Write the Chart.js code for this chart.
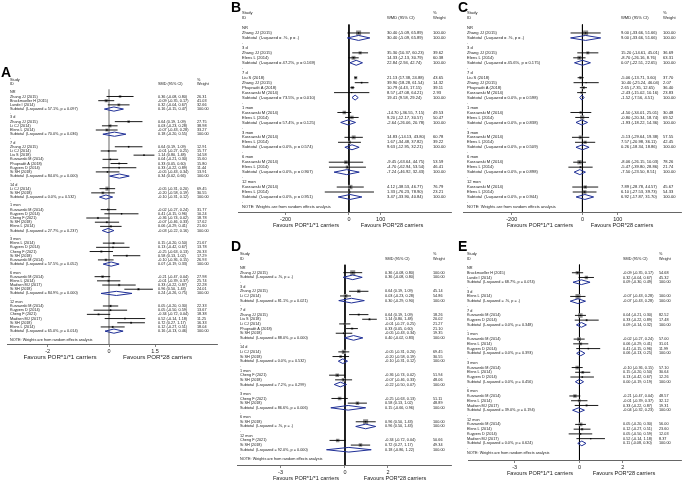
<!DOCTYPE html>
<html>
<head>
<meta charset="utf-8">
<script src="https://cdn.jsdelivr.net/npm/chart.js@4.4.0/dist/chart.umd.min.js"></script>
<style>
    html, body { margin: 0; padding: 0; background: #fff; }
    #wrap { position: relative; width: 685px; height: 483px; overflow: hidden; }
    canvas { position: absolute; }
</style>
</head>
<body>
<div id="wrap">
    <canvas id="pA"></canvas>
    <canvas id="pB"></canvas>
    <canvas id="pC"></canvas>
    <canvas id="pD"></canvas>
    <canvas id="pE"></canvas>
</div>
<script>
// ---- data (est / lower / upper / % weight per row) ----
const NOTE = 'NOTE: Weights are from random effects analysis';

// A: SMD
const aLabels = ['NR', 'Zhang JJ (2015)', 'Bruckmueller H (2015)', 'Lunde I (2014)', 'Subtotal  (I-squared = 57.1%, p = 0.097)', '.',
    '3 d', 'Zhang JJ (2015)', 'Li CJ (2014)', 'Elens L (2014)', 'Subtotal  (I-squared = 70.0%, p = 0.036)', '.',
    '7 d', 'Zhang JJ (2015)', 'Li CJ (2014)', 'Liu S (2018)', 'Kurzawski M (2014)', 'Phupradit A (2018)', 'Kuypers D (2014)', 'Si SH (2018)', 'Subtotal  (I-squared = 84.0%, p = 0.000)', '.',
    '14 d', 'Li CJ (2014)', 'Si SH (2018)', 'Subtotal  (I-squared = 0.0%, p = 0.532)', '.',
    '1 mon', 'Kurzawski M (2014)', 'Kuypers D (2014)', 'Cheng F (2021)', 'Si SH (2018)', 'Elens L (2014)', 'Subtotal  (I-squared = 27.7%, p = 0.237)', '.',
    '3 mon', 'Elens L (2014)', 'Kuypers D (2014)', 'Cheng F (2021)', 'Si SH (2018)', 'Kurzawski M (2014)', 'Subtotal  (I-squared = 57.5%, p = 0.052)', '.',
    '6 mon', 'Kurzawski M (2014)', 'Elens L (2014)', 'Madsen MJ (2017)', 'Si SH (2018)', 'Subtotal  (I-squared = 84.9%, p = 0.000)', '.',
    '12 mon', 'Kurzawski M (2014)', 'Kuypers D (2014)', 'Cheng F (2021)', 'Madsen MJ (2017)', 'Si SH (2018)', 'Elens L (2014)', 'Subtotal  (I-squared = 65.0%, p = 0.014)', '.',
    NOTE];
const aEst = [null, 0.36, -0.09, 0.32, 0.16, null,
    null, 0.64, 0.03, -0.07, 0.18, null,
    null, 0.64, -0.01, 1.14, 0.04, 0.33, 0.33, -0.05, 0.34, null,
    null, -0.05, -0.20, -0.10, null,
    null, -0.02, 0.41, -0.36, -0.07, 0.06, -0.03, null,
    null, 0.15, 0.13, -0.25, 0.58, -0.10, 0.07, null,
    null, -0.21, -0.01, 0.33, 0.96, 0.24, null,
    null, 0.05, 0.05, -0.34, 0.52, 0.72, 0.12, 0.16, null,
    null];
const aLo = [null, -0.08, -0.35, -0.04, -0.15, null,
    null, 0.19, -0.23, -0.43, -0.20, null,
    null, 0.19, -0.27, 0.80, -0.21, 0.05, -0.22, -0.43, 0.02, null,
    null, -0.31, -0.58, -0.31, null,
    null, -0.27, -0.15, -0.74, -0.46, -0.29, -0.22, null,
    null, -0.20, -0.42, -0.63, 0.13, -0.36, -0.19, null,
    null, -0.47, -0.39, -0.22, 0.50, -0.26, null,
    null, -0.20, -0.50, -0.72, -0.14, 0.27, -0.27, -0.13, null,
    null];
const aHi = [null, 0.80, 0.17, 0.67, 0.47, null,
    null, 1.09, 0.28, 0.28, 0.55, null,
    null, 1.09, 0.25, 1.48, 0.30, 0.60, 0.89, 0.34, 0.66, null,
    null, 0.20, 0.19, 0.12, null,
    null, 0.24, 0.96, 0.02, 0.33, 0.41, 0.16, null,
    null, 0.50, 0.67, 0.13, 1.02, 0.15, 0.33, null,
    null, 0.04, 0.37, 0.87, 1.43, 0.75, null,
    null, 0.30, 0.59, 0.04, 1.18, 1.17, 0.51, 0.46, null,
    null];
const aWt = [null, 26.31, 41.03, 32.66, 100, null,
    null, 27.75, 38.98, 33.27, 100, null,
    null, 12.91, 15.77, 14.58, 15.60, 15.80, 11.44, 13.91, 100, null,
    null, 69.45, 30.55, 100, null,
    null, 31.77, 10.24, 18.78, 17.62, 21.60, 100, null,
    null, 21.67, 13.78, 20.33, 17.29, 26.93, 100, null,
    null, 27.98, 25.74, 22.28, 24.01, 100, null,
    null, 22.33, 13.67, 18.38, 11.25, 16.33, 18.04, 100, null,
    null];

// B: WMD
const bLabels = ['NR', 'Zhang JJ (2015)', 'Subtotal  (I-squared = .%, p = .)', '.',
    '3 d', 'Zhang JJ (2015)', 'Elens L (2014)', 'Subtotal  (I-squared = 47.2%, p = 0.169)', '.',
    '7 d', 'Liu S (2018)', 'Zhang JJ (2015)', 'Phupradit A (2018)', 'Kurzawski M (2014)', 'Subtotal  (I-squared = 73.5%, p = 0.010)', '.',
    '1 mon', 'Kurzawski M (2014)', 'Elens L (2014)', 'Subtotal  (I-squared = 57.4%, p = 0.125)', '.',
    '3 mon', 'Kurzawski M (2014)', 'Elens L (2014)', 'Subtotal  (I-squared = 0.0%, p = 0.574)', '.',
    '6 mon', 'Kurzawski M (2014)', 'Elens L (2014)', 'Subtotal  (I-squared = 0.0%, p = 0.907)', '.',
    '12 mon', 'Kurzawski M (2014)', 'Elens L (2014)', 'Subtotal  (I-squared = 0.0%, p = 0.951)', '.',
    NOTE];
const bEst = [null, 30.40, 30.40, null,
    null, 35.30, 14.33, 22.84, null,
    null, 21.13, 39.90, 10.79, 8.57, 19.41, null,
    null, -14.70, 9.20, -2.64, null,
    null, 14.83, 1.67, 9.63, null,
    null, -9.45, -4.70, -7.24, null,
    null, 4.12, 1.33, 3.47, null,
    null];
const bLo = [null, -5.09, -5.09, null,
    null, 10.37, -2.13, 2.94, null,
    null, 17.38, 18.28, 4.43, -47.08, 9.58, null,
    null, -36.55, -12.17, -26.06, null,
    null, -14.13, -34.48, -12.95, null,
    null, -63.64, -62.94, -46.92, null,
    null, -38.53, -76.23, -33.90, null,
    null];
const bHi = [null, 65.89, 65.89, null,
    null, 60.23, 30.79, 42.74, null,
    null, 24.88, 61.54, 17.15, 64.21, 29.24, null,
    null, 7.15, 30.57, 20.78, null,
    null, 43.80, 37.82, 32.21, null,
    null, 44.75, 53.54, 32.43, null,
    null, 46.77, 78.90, 40.84, null,
    null];
const bWt = [null, 100, 100, null,
    null, 39.62, 60.38, 100, null,
    null, 43.65, 14.32, 39.11, 2.93, 100, null,
    null, 49.53, 50.47, 100, null,
    null, 60.78, 39.22, 100, null,
    null, 53.59, 46.41, 100, null,
    null, 76.79, 23.21, 100, null,
    null];

// C: WMD
const cLabels = ['NR', 'Zhang JJ (2015)', 'Subtotal  (I-squared = .%, p = .)', '.',
    '3 d', 'Zhang JJ (2015)', 'Elens L (2014)', 'Subtotal  (I-squared = 45.6%, p = 0.175)', '.',
    '7 d', 'Liu S (2018)', 'Zhang JJ (2015)', 'Phupradit A (2018)', 'Kurzawski M (2014)', 'Subtotal  (I-squared = 0.0%, p = 0.598)', '.',
    '1 mon', 'Kurzawski M (2014)', 'Elens L (2014)', 'Subtotal  (I-squared = 0.0%, p = 0.838)', '.',
    '3 mon', 'Kurzawski M (2014)', 'Elens L (2014)', 'Subtotal  (I-squared = 0.0%, p = 0.509)', '.',
    '6 mon', 'Kurzawski M (2014)', 'Elens L (2014)', 'Subtotal  (I-squared = 0.0%, p = 0.898)', '.',
    '12 mon', 'Kurzawski M (2014)', 'Elens L (2014)', 'Subtotal  (I-squared = 0.0%, p = 0.944)', '.',
    NOTE];
const cEst = [null, 9.00, 9.00, null,
    null, 15.20, -8.70, 0.07, null,
    null, -5.06, 10.40, 2.65, -2.43, -1.52, null,
    null, -4.50, -0.80, -1.93, null,
    null, -5.13, 7.57, 0.26, null,
    null, -8.06, -5.47, -7.50, null,
    null, 7.89, 6.10, 6.92, null,
    null];
const cLo = [null, -33.66, -33.66, null,
    null, -14.61, -26.16, -22.51, null,
    null, -13.71, -25.24, -7.35, -15.02, -7.56, null,
    null, -34.01, -20.34, -18.22, null,
    null, -29.64, -20.98, -18.34, null,
    null, -26.15, -39.80, -23.50, null,
    null, -28.78, -27.53, -17.87, null,
    null];
const cHi = [null, 51.66, 51.66, null,
    null, 45.01, 8.76, 22.65, null,
    null, 3.60, 46.04, 12.65, 10.16, 4.51, null,
    null, 25.01, 18.74, 14.36, null,
    null, 19.38, 36.11, 18.86, null,
    null, 10.03, 28.86, 8.51, null,
    null, 44.57, 39.73, 31.70, null,
    null];
const cWt = [null, 100, 100, null,
    null, 36.69, 63.31, 100, null,
    null, 37.70, 2.07, 36.40, 23.83, 100, null,
    null, 30.48, 69.52, 100, null,
    null, 57.55, 42.45, 100, null,
    null, 78.26, 21.74, 100, null,
    null, 45.67, 54.33, 100, null,
    null];

// D: SMD
const dLabels = ['NR', 'Zhang JJ (2015)', 'Subtotal  (I-squared = .%, p = .)', '.',
    '3 d', 'Zhang JJ (2015)', 'Li CJ (2014)', 'Subtotal  (I-squared = 81.1%, p = 0.021)', '.',
    '7 d', 'Zhang JJ (2015)', 'Liu S (2018)', 'Li CJ (2014)', 'Phupradit A (2018)', 'Si SH (2018)', 'Subtotal  (I-squared = 88.0%, p = 0.000)', '.',
    '14 d', 'Li CJ (2014)', 'Si SH (2018)', 'Subtotal  (I-squared = 0.0%, p = 0.532)', '.',
    '1 mon', 'Cheng F (2021)', 'Si SH (2018)', 'Subtotal  (I-squared = 7.2%, p = 0.299)', '.',
    '3 mon', 'Cheng F (2021)', 'Si SH (2018)', 'Subtotal  (I-squared = 86.6%, p = 0.006)', '.',
    '6 mon', 'Si SH (2018)', 'Subtotal  (I-squared = .%, p = .)', '.',
    '12 mon', 'Cheng F (2021)', 'Si SH (2018)', 'Subtotal  (I-squared = 92.0%, p = 0.000)', '.',
    NOTE];
const dEst = [null, 0.36, 0.36, null,
    null, 0.64, 0.03, 0.30, null,
    null, 0.64, 1.14, -0.01, 0.33, -0.05, 0.40, null,
    null, -0.05, -0.20, -0.10, null,
    null, -0.36, -0.07, -0.22, null,
    null, -0.25, 0.58, 0.15, null,
    null, 0.96, 0.96, null,
    null, -0.34, 0.72, 0.18, null,
    null];
const dLo = [null, -0.08, -0.08, null,
    null, 0.19, -0.23, -0.29, null,
    null, 0.19, 0.80, -0.27, 0.05, -0.43, -0.02, null,
    null, -0.31, -0.58, -0.31, null,
    null, -0.74, -0.46, -0.50, null,
    null, -0.63, 0.13, -0.66, null,
    null, 0.50, 0.50, null,
    null, -0.72, 0.27, -0.86, null,
    null];
const dHi = [null, 0.80, 0.80, null,
    null, 1.09, 0.28, 0.90, null,
    null, 1.09, 1.48, 0.25, 0.60, 0.34, 0.83, null,
    null, 0.20, 0.19, 0.12, null,
    null, 0.02, 0.33, 0.07, null,
    null, 0.13, 1.02, 0.96, null,
    null, 1.43, 1.43, null,
    null, 0.04, 1.17, 1.22, null,
    null];
const dWt = [null, 100, 100, null,
    null, 45.14, 54.86, 100, null,
    null, 18.26, 20.02, 21.27, 21.10, 19.35, 100, null,
    null, 69.45, 30.55, 100, null,
    null, 51.94, 48.06, 100, null,
    null, 51.11, 48.89, 100, null,
    null, 100, 100, null,
    null, 50.66, 49.34, 100, null,
    null];

// E: SMD
const eLabels = ['NR', 'Bruckmueller H (2015)', 'Lunde I (2014)', 'Subtotal  (I-squared = 68.7%, p = 0.074)', '.',
    '3 d', 'Elens L (2014)', 'Subtotal  (I-squared = .%, p = .)', '.',
    '7 d', 'Kurzawski M (2014)', 'Kuypers D (2014)', 'Subtotal  (I-squared = 0.0%, p = 0.348)', '.',
    '1 mon', 'Kurzawski M (2014)', 'Elens L (2014)', 'Kuypers D (2014)', 'Subtotal  (I-squared = 0.0%, p = 0.393)', '.',
    '3 mon', 'Kurzawski M (2014)', 'Elens L (2014)', 'Kuypers D (2014)', 'Subtotal  (I-squared = 0.0%, p = 0.456)', '.',
    '6 mon', 'Kurzawski M (2014)', 'Elens L (2014)', 'Madsen MJ (2017)', 'Subtotal  (I-squared = 39.0%, p = 0.194)', '.',
    '12 mon', 'Kurzawski M (2014)', 'Elens L (2014)', 'Kuypers D (2014)', 'Madsen MJ (2017)', 'Subtotal  (I-squared = 0.0%, p = 0.624)', '.',
    NOTE];
const eEst = [null, -0.09, 0.32, 0.09, null,
    null, -0.07, -0.07, null,
    null, 0.04, 0.33, 0.09, null,
    null, -0.02, 0.06, 0.41, 0.06, null,
    null, -0.10, 0.15, 0.13, 0.00, null,
    null, -0.21, -0.01, 0.33, -0.04, null,
    null, 0.05, 0.12, 0.05, 0.52, 0.11, null,
    null];
const eLo = [null, -0.35, -0.04, -0.30, null,
    null, -0.43, -0.43, null,
    null, -0.21, -0.22, -0.14, null,
    null, -0.27, -0.29, -0.15, -0.13, null,
    null, -0.36, -0.20, -0.42, -0.19, null,
    null, -0.47, -0.39, -0.22, -0.32, null,
    null, -0.20, -0.27, -0.50, -0.14, -0.08, null,
    null];
const eHi = [null, 0.17, 0.67, 0.49, null,
    null, 0.28, 0.28, null,
    null, 0.30, 0.89, 0.32, null,
    null, 0.24, 0.41, 0.96, 0.25, null,
    null, 0.15, 0.50, 0.67, 0.19, null,
    null, 0.04, 0.37, 0.87, 0.23, null,
    null, 0.30, 0.51, 0.59, 1.18, 0.30, null,
    null];
const eWt = [null, 54.68, 45.32, 100, null,
    null, 100, 100, null,
    null, 82.52, 17.48, 100, null,
    null, 57.00, 31.01, 11.99, 100, null,
    null, 57.10, 30.64, 12.26, 100, null,
    null, 48.57, 32.12, 19.31, 100, null,
    null, 56.00, 23.60, 12.03, 8.37, 100, null,
    null];

const smdTicks = [-3, 0, 2];
const aTicks = [-2, 0, 1.5];
const wmdTicks = [-200, 0, 100];
const favLeft = 'Favours POR*1/*1 carriers';
const favRight = 'Favours POR*28 carriers';

// ---- layout (page pixels) ----
const FONT = '"Liberation Sans", Arial, Helvetica, sans-serif';
const AXIS_H = 10;

const panels = [
    { id: 'pA', letter: 'A', left: 0, top: 60, width: 230, height: 310, letterX: 1, letterY: 77,
      labels: aLabels, est: aEst, lo: aLo, hi: aHi, wt: aWt, measure: 'SMD (95% CI)', ticks: aTicks,
      zero: 109, ppu: 30.7, axL: 7, axR: 217, nrY: 92.3, rowH: 4.19, axisY: 344, fs: 3.8,
      studyX: 10, ciX: 158, wtX: 197, favL: 60, favR: 157.5, favFs: 6.2,
      nullColor: '#a0a0a0', nullW: 1.6 },
    { id: 'pB', letter: 'B', left: 230, top: 0, width: 225, height: 237, letterX: 231, letterY: 12,
      labels: bLabels, est: bEst, lo: bLo, hi: bHi, wt: bWt, measure: 'WMD (95% CI)', ticks: wmdTicks,
      zero: 350, ppu: 0.32, axL: 238, axR: 453, nrY: 28, rowH: 4.97, axisY: 212, fs: 4.1,
      studyX: 242, ciX: 387, wtX: 433, favL: 306, favR: 392, favFs: 5.6,
      nullColor: '#000', nullW: 1 },
    { id: 'pC', letter: 'C', left: 455, top: 0, width: 230, height: 237, letterX: 458, letterY: 12,
      labels: cLabels, est: cEst, lo: cLo, hi: cHi, wt: cWt, measure: 'WMD (95% CI)', ticks: wmdTicks,
      zero: 583, ppu: 0.355, axL: 463, axR: 682, nrY: 28, rowH: 4.97, axisY: 212, fs: 4.1,
      studyX: 467, ciX: 621, wtX: 663, favL: 540, favR: 622, favFs: 5.6,
      nullColor: '#000', nullW: 1 },
    { id: 'pD', letter: 'D', left: 230, top: 238, width: 225, height: 245, letterX: 231, letterY: 251,
      labels: dLabels, est: dEst, lo: dLo, hi: dHi, wt: dWt, measure: 'SMD (95% CI)', ticks: smdTicks,
      zero: 346, ppu: 21.7, axL: 237, axR: 453, nrY: 268, rowH: 4.66, axisY: 465, fs: 3.8,
      studyX: 240, ciX: 385, wtX: 433, favL: 306, favR: 395, favFs: 5.6,
      nullColor: '#000', nullW: 1 },
    { id: 'pE', letter: 'E', left: 455, top: 238, width: 230, height: 245, letterX: 458, letterY: 251,
      labels: eLabels, est: eEst, lo: eLo, hi: eHi, wt: eWt, measure: 'SMD (95% CI)', ticks: smdTicks,
      zero: 580, ppu: 21.7, axL: 468, axR: 682, nrY: 268, rowH: 4.74, axisY: 460, fs: 3.8,
      studyX: 467, ciX: 623, wtX: 659, favL: 540, favR: 624, favFs: 5.6,
      nullColor: '#000', nullW: 1 }
];

const fmt = v => v.toFixed(2);

function textPlugin(p) {
    return {
        id: 'forestText',
        afterDatasetsDraw(chart) {
            const ctx = chart.ctx;
            const y = chart.scales.y;
            const px = v => v - p.left;
            ctx.save();
            ctx.fillStyle = '#1a1a1a';
            ctx.textAlign = 'left';
            ctx.textBaseline = 'middle';
            ctx.font = p.fs + 'px ' + FONT;

            // column headers
            const h1 = y.getPixelForValue(-2), h2 = y.getPixelForValue(-1);
            ctx.fillText('Study', px(p.studyX), h1);
            ctx.fillText('ID', px(p.studyX), h2);
            ctx.fillText(p.measure, px(p.ciX), h2);
            ctx.fillText('%', px(p.wtX), h1);
            ctx.fillText('Weight', px(p.wtX), h2);

            p.labels.forEach((lab, i) => {
                const yy = y.getPixelForValue(i + 1);
                ctx.fillText(lab, px(p.studyX), yy);
                if (p.est[i] == null) return;
                ctx.fillText(fmt(p.est[i]) + ' (' + fmt(p.lo[i]) + ', ' + fmt(p.hi[i]) + ')', px(p.ciX), yy);
                ctx.fillText(fmt(p.wt[i]), px(p.wtX), yy);
            });

            // favours labels under the axis
            ctx.textAlign = 'center';
            ctx.font = p.favFs + 'px ' + FONT;
            const fy = p.axisY + 13.5 - p.top;
            ctx.fillText(favLeft, px(p.favL), fy);
            ctx.fillText(favRight, px(p.favR), fy);

            // panel letter
            ctx.textAlign = 'left';
            ctx.textBaseline = 'alphabetic';
            ctx.fillStyle = '#000';
            ctx.font = 'bold 14px ' + FONT;
            ctx.fillText(p.letter, px(p.letterX), p.letterY - p.top);
            ctx.restore();
        }
    };
}

function buildPanel(p) {
    const canvas = document.getElementById(p.id);
    canvas.width = p.width;
    canvas.height = p.height;
    canvas.style.left = p.left + 'px';
    canvas.style.top = p.top + 'px';

    const gap = { x: null, y: null };
    const ci = [], boxes = [], boxW = [], diamonds = [];
    p.labels.forEach((lab, i) => {
        const r = i + 1, e = p.est[i];
        if (e == null) return;
        if (lab.startsWith('Subtotal')) {
            diamonds.push({ x: p.lo[i], y: r }, { x: e, y: r - 0.5 }, { x: p.hi[i], y: r },
                { x: e, y: r + 0.5 }, { x: p.lo[i], y: r }, gap);
        } else {
            ci.push({ x: p.lo[i], y: r }, { x: p.hi[i], y: r }, gap);
            boxes.push({ x: e, y: r });
            boxW.push(p.wt[i]);
        }
    });

    const yMax = (p.axisY - p.nrY + p.rowH) / p.rowH;

    new Chart(canvas, {
        type: 'scatter',
        data: {
            datasets: [
                {   // estimate dot
                    data: boxes, pointStyle: 'circle', pointRadius: 0.7,
                    backgroundColor: '#000', borderWidth: 0, order: 0
                },
                {   // confidence intervals
                    type: 'line', data: ci, borderColor: '#000', borderWidth: 0.9,
                    pointRadius: 0, spanGaps: false, fill: false, order: 1
                },
                {   // subtotal diamonds
                    type: 'line', data: diamonds, borderColor: '#1f2f96', borderWidth: 1,
                    pointRadius: 0, spanGaps: false, fill: false, order: 1
                },
                {   // weight boxes
                    data: boxes, pointStyle: 'rect',
                    pointRadius: ctx => 0.354 * Math.sqrt(boxW[ctx.dataIndex] || 0),
                    backgroundColor: '#8f8f8f', borderWidth: 0, order: 2
                },
                {   // line of no effect
                    type: 'line', data: [{ x: 0, y: 0.3 }, { x: 0, y: yMax }],
                    borderColor: p.nullColor, borderWidth: p.nullW, pointRadius: 0, order: 3
                }
            ]
        },
        options: {
            responsive: false,
            animation: false,
            devicePixelRatio: 1,
            events: [],
            layout: {
                padding: {
                    left: p.axL - p.left,
                    right: p.left + p.width - p.axR,
                    top: p.nrY - p.rowH - p.top,
                    bottom: p.top + p.height - p.axisY - AXIS_H
                }
            },
            plugins: { legend: { display: false }, tooltip: { enabled: false } },
            scales: {
                x: {
                    type: 'linear',
                    position: 'bottom',
                    min: -(p.zero - p.axL) / p.ppu,
                    max: (p.axR - p.zero) / p.ppu,
                    afterBuildTicks: axis => { axis.ticks = p.ticks.map(v => ({ value: v })); },
                    afterFit: scale => { scale.height = AXIS_H; },
                    grid: { drawOnChartArea: false, drawTicks: true, tickLength: 3, color: '#666', lineWidth: 0.8 },
                    border: { display: true, color: '#666', width: 1 },
                    ticks: {
                        font: { size: 5.5, family: FONT }, color: '#222', padding: 1,
                        maxRotation: 0, autoSkip: false, callback: v => String(v)
                    }
                },
                y: { type: 'linear', display: false, reverse: true, min: 0, max: yMax }
            }
        },
        plugins: [textPlugin(p)]
    });
}

document.addEventListener('DOMContentLoaded', () => {
    panels.forEach(buildPanel);
});
</script>
</body>
</html>
